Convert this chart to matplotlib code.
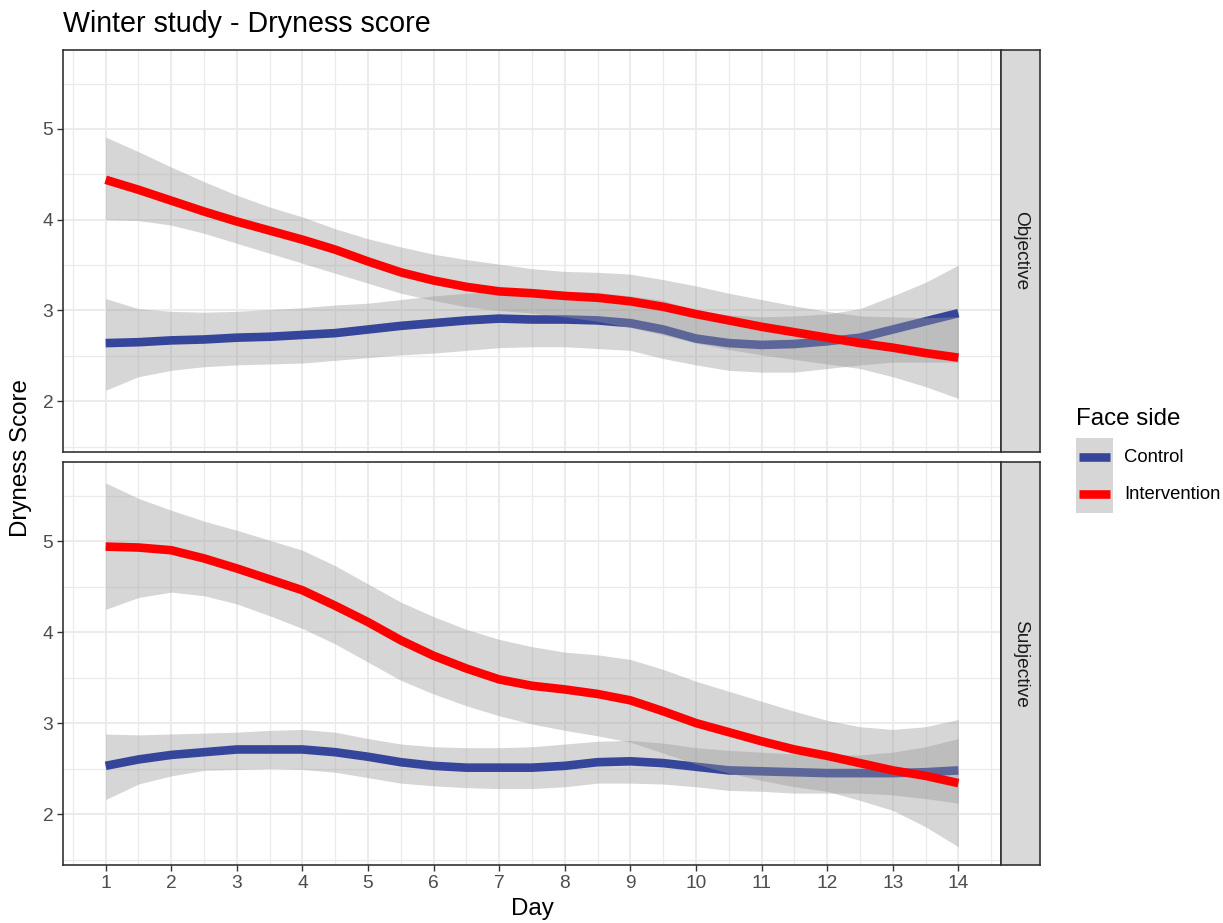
"""
Winter study - dryness score, smoothed per face side, faceted by assessment type.
"""
import matplotlib
matplotlib.use('Agg')
import matplotlib.pyplot as plt
import numpy as np

### ------------------------------- ###
###             0. Data             ###
### ------------------------------- ###

# smoother evaluated every half day
days = np.arange(1, 14.01, 0.5)
day_ticks = np.arange(1, 15)
facets = ['Objective', 'Subjective']
groups = ['Control', 'Intervention']

obj_control = [2.64, 2.65, 2.67, 2.68, 2.70, 2.71, 2.73, 2.75, 2.79, 2.83, 2.86, 2.89, 2.91, 2.90,
               2.90, 2.89, 2.86, 2.79, 2.69, 2.64, 2.62, 2.63, 2.66, 2.70, 2.79, 2.88, 2.97]
obj_control_hi = [3.13, 3.02, 2.99, 2.98, 2.99, 3.01, 3.03, 3.06, 3.08, 3.12, 3.16, 3.19, 3.21, 3.22,
                  3.21, 3.20, 3.16, 3.11, 3.00, 2.95, 2.93, 2.94, 2.96, 3.02, 3.16, 3.31, 3.50]
obj_control_lo = [2.12, 2.27, 2.34, 2.38, 2.40, 2.41, 2.42, 2.45, 2.48, 2.51, 2.53, 2.56, 2.59, 2.60,
                  2.60, 2.58, 2.56, 2.47, 2.40, 2.34, 2.32, 2.32, 2.36, 2.40, 2.43, 2.43, 2.43]

obj_interv = [4.44, 4.33, 4.21, 4.09, 3.98, 3.88, 3.78, 3.67, 3.54, 3.42, 3.33, 3.26, 3.21, 3.19,
              3.16, 3.14, 3.10, 3.04, 2.96, 2.89, 2.82, 2.76, 2.70, 2.64, 2.59, 2.53, 2.48]
obj_interv_hi = [4.91, 4.75, 4.58, 4.42, 4.27, 4.14, 4.03, 3.90, 3.79, 3.70, 3.62, 3.56, 3.51, 3.46,
                 3.43, 3.42, 3.40, 3.34, 3.27, 3.19, 3.12, 3.05, 2.99, 2.94, 2.93, 2.92, 2.93]
obj_interv_lo = [4.00, 3.99, 3.94, 3.85, 3.74, 3.63, 3.52, 3.41, 3.30, 3.19, 3.11, 3.04, 3.00, 2.97,
                 2.93, 2.88, 2.81, 2.73, 2.64, 2.57, 2.51, 2.46, 2.41, 2.36, 2.27, 2.16, 2.03]

sub_control = [2.53, 2.60, 2.65, 2.68, 2.71, 2.71, 2.71, 2.68, 2.63, 2.57, 2.53, 2.51, 2.51, 2.51,
               2.53, 2.57, 2.58, 2.56, 2.52, 2.48, 2.47, 2.46, 2.45, 2.45, 2.45, 2.46, 2.48]
sub_control_hi = [2.88, 2.87, 2.88, 2.89, 2.90, 2.92, 2.93, 2.90, 2.83, 2.77, 2.74, 2.73, 2.73, 2.74,
                  2.77, 2.80, 2.81, 2.78, 2.73, 2.70, 2.68, 2.66, 2.65, 2.65, 2.68, 2.74, 2.83]
sub_control_lo = [2.16, 2.33, 2.42, 2.48, 2.49, 2.50, 2.49, 2.46, 2.40, 2.34, 2.31, 2.29, 2.28, 2.28,
                  2.30, 2.34, 2.34, 2.33, 2.30, 2.26, 2.25, 2.23, 2.23, 2.23, 2.21, 2.17, 2.12]

sub_interv = [4.94, 4.93, 4.90, 4.81, 4.70, 4.58, 4.46, 4.29, 4.11, 3.91, 3.74, 3.60, 3.48, 3.41,
              3.37, 3.32, 3.25, 3.13, 3.00, 2.90, 2.80, 2.71, 2.64, 2.56, 2.48, 2.42, 2.34]
sub_interv_hi = [5.64, 5.47, 5.34, 5.22, 5.12, 5.01, 4.90, 4.73, 4.53, 4.33, 4.17, 4.03, 3.92, 3.84,
                 3.78, 3.75, 3.70, 3.59, 3.46, 3.35, 3.24, 3.13, 3.03, 2.96, 2.93, 2.96, 3.04]
sub_interv_lo = [4.25, 4.38, 4.44, 4.40, 4.31, 4.18, 4.04, 3.87, 3.67, 3.47, 3.32, 3.19, 3.08, 2.99,
                 2.92, 2.86, 2.79, 2.67, 2.55, 2.45, 2.37, 2.30, 2.25, 2.15, 2.04, 1.86, 1.64]

### ------------------------------- ###
###             1. Style            ###
### ------------------------------- ###

plt.rcParams['font.family'] = ['Liberation Sans', 'DejaVu Sans']

colours = {'Control': '#35459a', 'Intervention': '#ff0000'}
band_rgba = (0.6, 0.6, 0.6, 0.4)
grid_c = '#ebebeb'
edge_c = '#333333'
line_w = 6.2

W, H = 1223, 923
fig = plt.figure(figsize=(W / 100, H / 100), dpi=100)


def px_axes(x0, y0, x1, y1):
    "axes placed in pixel coordinates measured from the top left"
    return fig.add_axes([x0 / W, 1 - y1 / H, (x1 - x0) / W, (y1 - y0) / H])


def style_panel(ax, show_x):
    ax.set_xlim(0.35, 14.65)
    ax.set_ylim(1.44, 5.87)
    ax.set_xticks(day_ticks)
    ax.set_xticks(np.arange(0.5, 15, 1), minor=True)
    ax.set_yticks([2, 3, 4, 5])
    ax.set_yticks(np.arange(1.5, 6, 1), minor=True)
    ax.grid(which='major', color=grid_c, lw=1.4)
    ax.grid(which='minor', color=grid_c, lw=0.9)
    ax.set_axisbelow(True)
    ax.tick_params(which='minor', length=0)
    ax.tick_params(which='major', length=4, width=1.0, color=edge_c,
                   labelsize=13.8, labelcolor='#4d4d4d', pad=3)
    if not show_x:
        ax.tick_params(axis='x', which='both', length=0, labelbottom=False)
    for s in ax.spines.values():
        s.set_color(edge_c)
        s.set_linewidth(1.2)


def strip(y0, y1, label):
    sax = px_axes(1001, y0, 1040, y1)
    sax.set_facecolor('#d9d9d9')
    sax.set_xticks([])
    sax.set_yticks([])
    for s in sax.spines.values():
        s.set_color(edge_c)
        s.set_linewidth(1.2)
    sax.text(0.5, 0.5, label, rotation=-90, ha='center', va='center',
             fontsize=13.8, color='#1a1a1a', transform=sax.transAxes)


### ------------------------------- ###
###            2. Panels            ###
### ------------------------------- ###

panel_data = {
    'Objective': {'Control': (obj_control, obj_control_lo, obj_control_hi),
                  'Intervention': (obj_interv, obj_interv_lo, obj_interv_hi)},
    'Subjective': {'Control': (sub_control, sub_control_lo, sub_control_hi),
                   'Intervention': (sub_interv, sub_interv_lo, sub_interv_hi)},
}
panel_px = {'Objective': (50, 452), 'Subjective': (462, 865)}

for facet in facets:
    y0, y1 = panel_px[facet]
    ax = px_axes(63, y0, 1001, y1)
    z = 2
    # ribbon then line for each group, so the red ribbon sits over the blue line
    for g in groups:
        fit, lo, hi = panel_data[facet][g]
        ax.fill_between(days, lo, hi, color=band_rgba, lw=0, zorder=z)
        ax.plot(days, fit, color=colours[g], lw=line_w, solid_capstyle='butt',
                solid_joinstyle='round', zorder=z + 1)
        z += 2
    style_panel(ax, show_x=(facet == 'Subjective'))
    strip(y0, y1, facet)

### ------------------------------- ###
###        3. Labels & legend       ###
### ------------------------------- ###

fig.text(63 / W, 1 - 24 / H, 'Winter study - Dryness score', fontsize=20.6,
         ha='left', va='center')
fig.text(21 / W, 1 - 458 / H, 'Dryness Score', fontsize=17.4, rotation=90,
         ha='center', va='center')
fig.text(532 / W, 1 - 909 / H, 'Day', fontsize=17.4, ha='center', va='center')

# legend drawn by hand so the key backgrounds join up like ggplot's
fig.text(1076 / W, 1 - 425 / H, 'Face side', fontsize=17.4, ha='left', va='baseline')
kax = px_axes(1076, 438, 1113, 513)
kax.set_xlim(0, 1)
kax.set_ylim(len(groups), 0)
kax.axis('off')
kax.add_patch(plt.Rectangle((0, 0), 1, len(groups), color=band_rgba, lw=0))
for i, g in enumerate(groups):
    kax.plot([0.08, 0.92], [i + 0.5, i + 0.5], color=colours[g], lw=line_w,
             solid_capstyle='butt')
    fig.text(1124 / W, 1 - (457 + 37.5 * i) / H, g, fontsize=13.3,
             ha='left', va='center')

fig.savefig('out.png', dpi=100)
